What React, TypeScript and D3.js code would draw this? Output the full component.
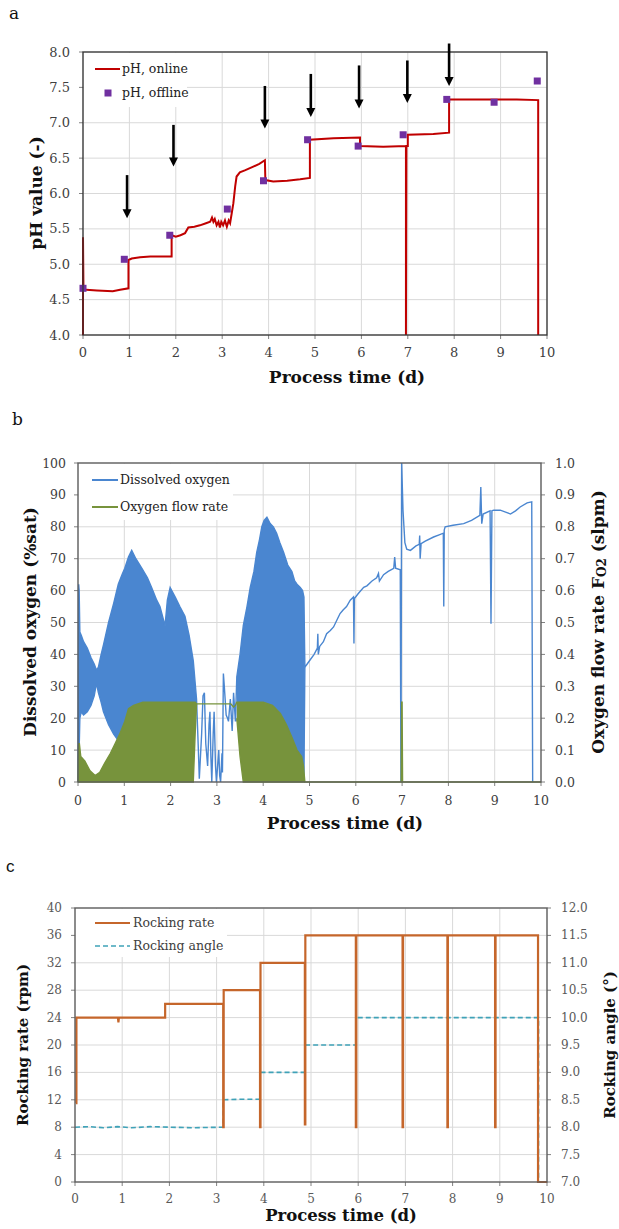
import React from "react";
import * as d3 from "d3";

const W = 619;
const H = 1229;
const SERIF = "'DejaVu Serif', serif";

const dayTicks = [0, 1, 2, 3, 4, 5, 6, 7, 8, 9, 10];

// panel a: pH
const phTicks = [4.0, 4.5, 5.0, 5.5, 6.0, 6.5, 7.0, 7.5, 8.0];
const phTime = [0, 0, 0.01, 0.07, 0.3, 0.64, 0.8, 0.98, 0.98, 1.05, 1.23, 1.45, 1.7, 1.91, 1.91, 2.0, 2.1, 2.2, 2.27, 2.4, 2.52, 2.65, 2.74, 2.78, 2.81, 2.84, 2.88, 2.92, 2.95, 2.98, 3.02, 3.06, 3.1, 3.14, 3.17, 3.2, 3.24, 3.28, 3.31, 3.38, 3.5, 3.67, 3.8, 3.92, 3.93, 4.1, 4.4, 4.68, 4.89, 4.89, 5.4, 5.97, 5.97, 6.47, 6.96, 6.96, 6.97, 7.0, 7.0, 7.55, 7.89, 7.89, 8.2, 8.8, 9.35, 9.81, 9.81];
const phOnline = [4.0, 5.38, 4.64, 4.64, 4.63, 4.62, 4.64, 4.66, 5.06, 5.08, 5.1, 5.11, 5.11, 5.11, 5.41, 5.39, 5.41, 5.44, 5.52, 5.53, 5.55, 5.58, 5.6, 5.66, 5.6, 5.64, 5.55, 5.6, 5.52, 5.6, 5.55, 5.62, 5.53, 5.62, 5.58, 5.7, 5.86, 6.1, 6.24, 6.3, 6.33, 6.38, 6.42, 6.47, 6.19, 6.17, 6.18, 6.2, 6.22, 6.76, 6.78, 6.79, 6.67, 6.66, 6.67, 4.0, 6.67, 6.67, 6.83, 6.84, 6.86, 7.33, 7.33, 7.33, 7.33, 7.32, 4.0];
const phOffTime = [0.0, 0.89, 1.87, 3.11, 3.89, 4.84, 5.93, 6.9, 7.84, 8.86, 9.79];
const phOffline = [4.66, 5.07, 5.41, 5.78, 6.18, 6.76, 6.67, 6.83, 7.33, 7.29, 7.59];
const arrowTime = [0.95, 1.95, 3.92, 4.91, 5.95, 6.99, 7.89];
const arrowTop = [6.26, 6.97, 7.52, 7.69, 7.81, 7.88, 8.12];
const arrowTip = [5.65, 6.38, 6.92, 7.08, 7.2, 7.28, 7.52];

// panel b: dissolved oxygen (%sat) and O2 flow (slpm); low = null where the trace is a single line
const doTicks = [0, 10, 20, 30, 40, 50, 60, 70, 80, 90, 100];
const flowTicks = [0, 0.1, 0.2, 0.3, 0.4, 0.5, 0.6, 0.7, 0.8, 0.9, 1.0];
const doTime = [0, 0.015, 0.025, 0.04, 0.07, 0.12, 0.2, 0.28, 0.35, 0.4, 0.44, 0.5, 0.55, 0.66, 0.77, 0.87, 0.95, 1.01, 1.09, 1.16, 1.25, 1.38, 1.5, 1.59, 1.7, 1.77, 1.88, 1.93, 1.99, 2.1, 2.2, 2.31, 2.4, 2.49, 2.56,
  2.6, 2.62, 2.67, 2.7, 2.73, 2.76, 2.8, 2.83, 2.85, 2.87, 2.89, 2.92, 2.94, 2.97, 2.99, 3.02, 3.04, 3.06, 3.08, 3.11, 3.12, 3.14, 3.16, 3.2, 3.23, 3.25, 3.29, 3.33, 3.36, 3.4,
  3.43, 3.5, 3.57, 3.65, 3.72, 3.8, 3.86, 3.92, 3.97, 4.02, 4.08, 4.15, 4.22, 4.29, 4.36, 4.44, 4.53, 4.62, 4.68, 4.73, 4.8, 4.85, 4.88, 4.9,
  4.95, 5.0, 5.1, 5.17, 5.18, 5.19, 5.22, 5.3, 5.37, 5.45, 5.52, 5.6, 5.66, 5.73, 5.8, 5.88, 5.95, 5.96, 5.97, 6.05, 6.17, 6.24, 6.35, 6.45, 6.49, 6.51, 6.6, 6.7, 6.82, 6.84, 6.86, 6.96, 6.975, 6.99,
  7.02, 7.06, 7.1, 7.18, 7.3, 7.37, 7.38, 7.39, 7.41, 7.5, 7.68, 7.8, 7.89, 7.9, 7.91, 7.93, 8.1, 8.33, 8.5, 8.68, 8.7, 8.72, 8.75, 8.9, 8.92, 8.94, 8.98, 9.12, 9.25, 9.34, 9.45, 9.55, 9.7, 9.8, 9.82];
const doHigh = [0, 62, 60, 47, 46, 44, 42, 39, 37, 35, 36, 40, 43, 50, 56, 62, 65, 67, 70.5, 72.6, 70, 67, 64, 61, 57, 55, 49, 57, 61, 58, 55, 52, 46, 38, 26,
  10, 1, 15, 27, 28, 12, 5, 18, 22, 8, 0, 15, 22, 5, 0, 6, 10, 2, 0, 9, 3, 34, 30, 21, 20, 19, 26, 16, 28, 19,
  33, 40, 49, 55, 61, 66, 72, 76, 80, 82, 83, 81, 80, 78, 75, 72, 68, 66, 63, 62, 61, 60, 58, 36,
  37, 38, 40, 42, 46.5, 40, 42.5, 44, 46.5, 47.5, 48.6, 51, 52.8, 54, 55, 57, 58, 43.4, 57.5, 59, 61, 61.5, 63, 64, 65.4, 63, 65, 66, 67, 70.5, 67, 66.5, 0, 100,
  85, 75, 73, 72.6, 74, 74.5, 77.3, 70, 74.7, 75.5, 76.8, 77.5, 78, 55, 79, 80, 80.5, 81, 82, 83.6, 92.5, 81, 84, 85, 49.6, 85, 85.2, 85.2, 84.5, 84, 85, 86.2, 87.5, 87.8, 0];
const doLow = [0, 0, 10, 20, 22, 21, 22, 24, 27, 31, 28, 25, 22, 18, 15, 13, 13, 15, 19, 22, 24, 25, 25, 25, 25, 25, 25, 25, 25, 25, 25, 25, 25, 25, 24,
  null, null, null, null, null, null, null, null, null, null, null, null, null, null, null, null, null, null, null, null, null, null, null, null, null, null, null, null, null, null,
  19, 22, 25, 25, 25, 25, 25, 25, 25, 25, 25, 24, 23, 21, 19, 17, 15, 13, 11, 9, 7, 4, 1, 36,
  null, null, null, null, null, null, null, null, null, null, null, null, null, null, null, null, null, null, null, null, null, null, null, null, null, null, null, null, null, null, null, null, null, null,
  null, null, null, null, null, null, null, null, null, null, null, null, null, null, null, null, null, null, null, null, null, null, null, null, null, null, null, null, null, null, null, null, null, null, null];
const flowTime = [0, 0.015, 0.03, 0.06, 0.15, 0.26, 0.37, 0.47, 0.58, 0.7, 0.8, 0.9, 1.01, 1.09, 1.2, 1.4, 1.8, 2.2, 2.45, 2.49, 2.53, 2.56, 2.8, 3.0, 3.2, 3.3, 3.36, 3.4, 3.43, 3.5, 3.57, 3.8, 4.0, 4.2, 4.37, 4.5, 4.62, 4.73, 4.83, 4.87, 4.9, 5.5, 6.0, 6.5, 6.98, 6.99, 7.0, 7.01, 8.0, 9.0, 10.0];
const flowHigh = [0, 0.12, 0.12, 0.08, 0.065, 0.035, 0.02, 0.03, 0.06, 0.09, 0.12, 0.15, 0.19, 0.23, 0.24, 0.25, 0.25, 0.25, 0.25, 0.25, 0.25, 0.245, 0.245, 0.245, 0.245, 0.245, 0.235, 0.24, 0.25, 0.25, 0.25, 0.25, 0.25, 0.24, 0.215, 0.18, 0.14, 0.1, 0.08, 0.05, 0, 0, 0, 0, 0, 0.25, 0.25, 0, 0, 0, 0];
const flowLow = [0, 0, 0, 0, 0, 0, 0, 0, 0, 0, 0, 0, 0, 0, 0, 0, 0, 0, 0, 0, 0.15, 0.245, null, null, null, null, null, null, 0.2, 0.08, 0, 0, 0, 0, 0, 0, 0, 0, 0, 0, 0, null, null, null, null, null, null, null, null, null, null];

// panel c: rocking
const rateTicks = [0, 4, 8, 12, 16, 20, 24, 28, 32, 36, 40];
const angleTicks = [7.0, 7.5, 8.0, 8.5, 9.0, 9.5, 10.0, 10.5, 11.0, 11.5, 12.0];
const rateTime = [0.02, 0.03, 0.03, 0.91, 0.92, 0.93, 1.91, 1.91, 3.14, 3.14, 3.15, 3.15, 3.92, 3.92, 3.93, 3.93, 4.87, 4.87, 4.88, 4.88, 5.95, 5.95, 5.96, 5.96, 6.94, 6.94, 6.95, 6.95, 7.89, 7.89, 7.9, 7.9, 8.9, 8.9, 8.91, 8.91, 9.81, 9.81, 10];
const rateValue = [11.5, 11.5, 24, 24, 23.3, 24, 24, 26, 26, 8, 8, 28, 28, 8, 8, 32, 32, 8.4, 8.4, 36, 36, 8, 8, 36, 36, 8, 8, 36, 36, 8, 8, 36, 36, 8, 8, 36, 36, 0, 0];
const angleTime = [0, 0.3, 0.6, 0.9, 1.2, 1.6, 2.0, 2.5, 3.14, 3.14, 3.5, 3.92, 3.92, 4.87, 4.87, 5.95, 5.95, 9.82, 9.82];
const angleValue = [8.0, 8.01, 7.99, 8.01, 7.99, 8.01, 8.0, 7.99, 8.0, 8.5, 8.51, 8.51, 9.0, 9.0, 9.5, 9.5, 10.0, 10.0, 7.0];

const GRID = "#d9d9d9";

type Lin = d3.ScaleLinear<number, number>;

function Frame(props: {
  x: Lin; y: Lin; yTicks: number[]; fmt: (v: number) => string;
  yR?: Lin; yRTicks?: number[]; fmtR?: (v: number) => string;
  labelX: number; labelRX?: number; tickBase: number; fs: number; color: string;
}) {
  const { x, y, yTicks, fmt, yR, yRTicks, fmtR, labelX, labelRX, tickBase, fs, color } = props;
  const [x0, x1] = x.range();
  const [y0, y1] = y.range();
  return (
    <g fontFamily={SERIF} fontSize={fs} fill={color}>
      {dayTicks.map((d) => (
        <line key={"v" + d} x1={x(d)} x2={x(d)} y1={y0} y2={y1} stroke={GRID} />
      ))}
      {yTicks.map((d) => (
        <line key={"h" + d} x1={x0} x2={x1} y1={y(d)} y2={y(d)} stroke={GRID} />
      ))}
      {yTicks.map((d) => (
        <g key={"t" + d}>
          <line x1={x0 - 4} x2={x0} y1={y(d)} y2={y(d)} stroke="#808080" />
          <text x={labelX} y={y(d)} textAnchor="end" dominantBaseline="central">{fmt(d)}</text>
        </g>
      ))}
      {yR && yRTicks && yRTicks.map((d) => (
        <g key={"r" + d}>
          <line x1={x1} x2={x1 + 4} y1={yR(d)} y2={yR(d)} stroke="#808080" />
          <text x={labelRX} y={yR(d)} textAnchor="start" dominantBaseline="central">{fmtR!(d)}</text>
        </g>
      ))}
      {dayTicks.map((d) => (
        <g key={"x" + d}>
          <line x1={x(d)} x2={x(d)} y1={y0} y2={y0 + 4} stroke="#808080" />
          <text x={x(d)} y={tickBase} textAnchor="middle">{d}</text>
        </g>
      ))}
    </g>
  );
}

function Border({ x, y, stroke }: { x: Lin; y: Lin; stroke: string }) {
  const [x0, x1] = x.range();
  const [y0, y1] = y.range();
  return <rect x={x0} y={y1} width={x1 - x0} height={y0 - y1} fill="none" stroke={stroke} strokeWidth={1.3} />;
}

function PanelA() {
  const x = d3.scaleLinear().domain([0, 10]).range([83, 547]);
  const y = d3.scaleLinear().domain([4, 8]).range([335, 52]);
  const pts = phTime.map((t, i) => [t, phOnline[i]] as [number, number]);
  const line = d3.line<[number, number]>().x((d) => x(d[0])).y((d) => y(d[1]));
  return (
    <g>
      <text x={9} y={19} fontFamily={SERIF} fontSize={17} fill="#111">a</text>
      <Frame x={x} y={y} yTicks={phTicks} fmt={d3.format(".1f")} labelX={70} tickBase={357} fs={13} color="#404040" />
      <rect x={84} y={53} width={103} height={54} fill="#fff" />
      <path d={line(pts) || ""} fill="none" stroke="#c00000" strokeWidth={2} />
      {phOffTime.map((t, i) => (
        <rect key={i} x={x(t) - 3.5} y={y(phOffline[i]) - 3.5} width={7} height={7} fill="#7030a0" />
      ))}
      <Border x={x} y={y} stroke="#333" />
      {arrowTime.map((t, i) => {
        const ax = x(t);
        const tip = y(arrowTip[i]);
        return (
          <g key={"a" + i}>
            <line x1={ax} x2={ax} y1={y(arrowTop[i])} y2={tip - 7} stroke="#000" strokeWidth={2.6} />
            <path d={`M${ax - 4.5},${tip - 9}L${ax + 4.5},${tip - 9}L${ax},${tip}Z`} fill="#000" />
          </g>
        );
      })}
      <g fontFamily={SERIF} fontSize={12.5} fill="#222">
        <line x1={95} x2={120} y1={69} y2={69} stroke="#c00000" strokeWidth={2} />
        <text x={122} y={73}>pH, online</text>
        <rect x={104.5} y={89.5} width={7} height={7} fill="#7030a0" />
        <text x={122} y={97}>pH, offline</text>
      </g>
      <text transform="translate(36,193) rotate(-90)" textAnchor="middle" dominantBaseline="central" fontFamily={SERIF} fontWeight="bold" fontSize={17} fill="#111">pH value (-)</text>
      <text x={347} y={383} textAnchor="middle" fontFamily={SERIF} fontWeight="bold" fontSize={17} fill="#111">Process time (d)</text>
    </g>
  );
}

function PanelB() {
  const x = d3.scaleLinear().domain([0, 10]).range([78, 541]);
  const y = d3.scaleLinear().domain([0, 100]).range([782, 463]);
  const yR = d3.scaleLinear().domain([0, 1]).range([782, 463]);
  const idx = doTime.map((_, i) => i);
  const doArea = d3.area<number>().defined((i) => doLow[i] != null)
    .x((i) => x(doTime[i])).y0((i) => y(doLow[i] as number)).y1((i) => y(doHigh[i]));
  const doHi = d3.line<number>().x((i) => x(doTime[i])).y((i) => y(doHigh[i]));
  const doLo = d3.line<number>().defined((i) => doLow[i] != null).x((i) => x(doTime[i])).y((i) => y(doLow[i] as number));
  const fIdx = flowTime.map((_, i) => i);
  const fArea = d3.area<number>().defined((i) => flowLow[i] != null)
    .x((i) => x(flowTime[i])).y0((i) => yR(flowLow[i] as number)).y1((i) => yR(flowHigh[i]));
  const fHi = d3.line<number>().x((i) => x(flowTime[i])).y((i) => yR(flowHigh[i]));
  const fLo = d3.line<number>().defined((i) => flowLow[i] != null).x((i) => x(flowTime[i])).y((i) => yR(flowLow[i] as number));
  const blue = "#4a86d0";
  const green = "#77933c";
  return (
    <g>
      <text x={12} y={425} fontFamily={SERIF} fontSize={17} fill="#111">b</text>
      <Frame x={x} y={y} yTicks={doTicks} fmt={(d) => String(d)} yR={yR} yRTicks={flowTicks} fmtR={d3.format(".1f")}
        labelX={66} labelRX={555} tickBase={805} fs={12.5} color="#404040" />
      <rect x={79} y={464} width={154} height={56} fill="#fff" />
      <path d={doArea(idx) || ""} fill={blue} />
      <path d={doHi(idx) || ""} fill="none" stroke={blue} strokeWidth={1.4} />
      <path d={doLo(idx) || ""} fill="none" stroke={blue} strokeWidth={1.4} />
      <path d={fArea(fIdx) || ""} fill={green} />
      <path d={fHi(fIdx) || ""} fill="none" stroke={green} strokeWidth={1.4} />
      <path d={fLo(fIdx) || ""} fill="none" stroke={green} strokeWidth={1.4} />
      <Border x={x} y={y} stroke="#595959" />
      <g fontFamily={SERIF} fontSize={12.5} fill="#222">
        <line x1={92} x2={118} y1={480} y2={480} stroke={blue} strokeWidth={2} />
        <text x={120} y={484}>Dissolved oxygen</text>
        <line x1={92} x2={118} y1={507} y2={507} stroke={green} strokeWidth={2} />
        <text x={120} y={511}>Oxygen flow rate</text>
      </g>
      <g fontFamily={SERIF} fontWeight="bold" fontSize={17} fill="#111">
        <text transform="translate(30,622) rotate(-90)" textAnchor="middle" dominantBaseline="central">Dissolved oxygen (%sat)</text>
        <text transform="translate(598,622) rotate(-90)" textAnchor="middle" dominantBaseline="central">
          Oxygen flow rate F<tspan fontSize={12} dy={4}>O2</tspan><tspan dy={-4}> (slpm)</tspan>
        </text>
        <text x={345} y={829} textAnchor="middle">Process time (d)</text>
      </g>
    </g>
  );
}

function PanelC() {
  const x = d3.scaleLinear().domain([0, 10]).range([75, 547]);
  const y = d3.scaleLinear().domain([0, 40]).range([1182, 908]);
  const yR = d3.scaleLinear().domain([7, 12]).range([1182, 908]);
  const orange = "#c5662b";
  const teal = "#3fa2b8";
  const rate = d3.line<number>().x((i) => x(rateTime[i])).y((i) => y(rateValue[i]));
  const angle = d3.line<number>().x((i) => x(angleTime[i])).y((i) => yR(angleValue[i]));
  return (
    <g>
      <text x={6} y={872} fontFamily="'Liberation Sans', sans-serif" fontSize={17} fill="#111">c</text>
      <Frame x={x} y={y} yTicks={rateTicks} fmt={(d) => String(d)} yR={yR} yRTicks={angleTicks} fmtR={d3.format(".1f")}
        labelX={62} labelRX={561} tickBase={1203} fs={12} color="#595959" />
      <rect x={76} y={909} width={151} height={48} fill="#fff" />
      <path d={angle(angleTime.map((_, i) => i)) || ""} fill="none" stroke={teal} strokeWidth={1.6} strokeDasharray="5,3" />
      <path d={rate(rateTime.map((_, i) => i)) || ""} fill="none" stroke={orange} strokeWidth={2.2} />
      <Border x={x} y={y} stroke="#595959" />
      <g fontFamily={SERIF} fontSize={12.5} fill="#404040">
        <line x1={95} x2={130} y1={923} y2={923} stroke={orange} strokeWidth={2} />
        <text x={133} y={927}>Rocking rate</text>
        <line x1={95} x2={130} y1={946} y2={946} stroke={teal} strokeWidth={1.6} strokeDasharray="5,3" />
        <text x={133} y={950}>Rocking angle</text>
      </g>
      <g fontFamily={SERIF} fontWeight="bold" fill="#111">
        <text transform="translate(23,1045) rotate(-90)" textAnchor="middle" dominantBaseline="central" fontSize={15}>Rocking rate (rpm)</text>
        <text transform="translate(610,1045) rotate(-90)" textAnchor="middle" dominantBaseline="central" fontSize={15}>Rocking angle (°)</text>
        <text x={341} y={1221} textAnchor="middle" fontSize={16.5}>Process time (d)</text>
      </g>
    </g>
  );
}

export default function App() {
  return (
    <svg width={W} height={H} viewBox={`0 0 ${W} ${H}`} style={{ position: "absolute", left: 0, top: 0, background: "#fff" }}>
      <rect width={W} height={H} fill="#fff" />
      <PanelA />
      <PanelB />
      <PanelC />
    </svg>
  );
}
